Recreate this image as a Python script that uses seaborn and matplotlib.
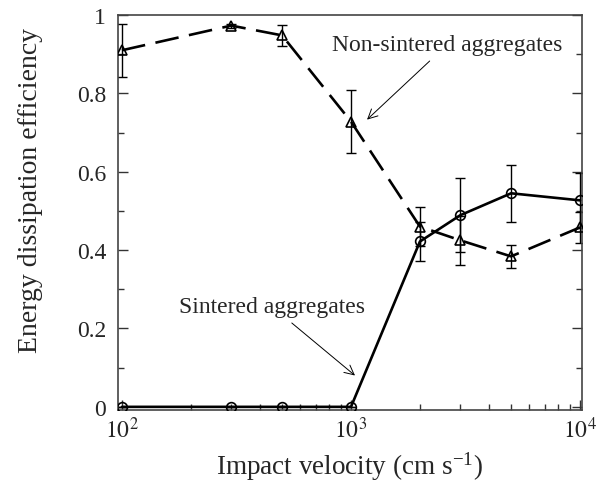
import matplotlib
matplotlib.use("Agg")
import matplotlib.pyplot as plt
import numpy as np
import pandas as pd
import seaborn as sns
from matplotlib.ticker import FixedLocator, MultipleLocator, LogLocator, NullFormatter

# impact velocity (cm/s)
velocity = [100, 300, 500, 1000, 2000, 3000, 5000, 10000]

# non-sintered aggregates
nonsint_eff = [0.91, 0.973, 0.948, 0.728, 0.46, 0.425, 0.384, 0.458]
nonsint_err = [0.068, 0.005, 0.027, 0.08, 0.05, 0.062, 0.03, 0.04]

# sintered aggregates
sint_eff = [0.0, 0.0, 0.0, 0.0, 0.422, 0.489, 0.545, 0.527]
sint_err = [0.0, 0.0, 0.0, 0.0, 0.05, 0.094, 0.072, 0.07]

y_ticks = [0, 0.2, 0.4, 0.6, 0.8, 1]
y_tick_labels = ["0", "0.2", "0.4", "0.6", "0.8", "1"]

df = pd.DataFrame({
    "velocity": velocity * 2,
    "eff": nonsint_eff + sint_eff,
    "err": nonsint_err + sint_err,
    "kind": ["Non-sintered"] * len(velocity) + ["Sintered"] * len(velocity),
})

sns.set_style("ticks")
plt.rcParams['font.family'] = ['Liberation Serif', 'DejaVu Serif']
plt.rcParams['mathtext.fontset'] = 'stix'

fig = plt.figure(figsize=(5.96, 4.85), dpi=100)
ax = fig.add_axes([0.198, 0.1526, 0.7785, 0.8144])

# error bars first
for kind in ["Non-sintered", "Sintered"]:
    d = df[df["kind"] == kind]
    ax.errorbar(d["velocity"], d["eff"], yerr=d["err"], fmt="none",
                ecolor="black", elinewidth=1, capsize=3.6, capthick=1, zorder=2)

sns.lineplot(data=df, x="velocity", y="eff", style="kind",
             markers={"Non-sintered": "^", "Sintered": "o"},
             dashes={"Non-sintered": (9, 4), "Sintered": ""},
             color="black", linewidth=1.9, markersize=7,
             markerfacecolor="none", markeredgecolor="black", markeredgewidth=1.2,
             legend=False, ax=ax, zorder=3)

ax.set_xscale("log")
ax.set_xlim(96.1, 10200)
ax.set_ylim(-0.008, 1.0)

ax.xaxis.set_major_locator(FixedLocator([100, 1000, 10000]))
ax.set_xticklabels([r"$10^2$", r"$10^3$", r"$10^4$"])
ax.xaxis.set_minor_locator(LogLocator(base=10, subs=np.arange(2, 10)))
ax.xaxis.set_minor_formatter(NullFormatter())
ax.yaxis.set_major_locator(FixedLocator(y_ticks))
ax.set_yticklabels(y_tick_labels)
ax.yaxis.set_minor_locator(MultipleLocator(0.1))

ax.tick_params(which="both", direction="in", top=False, right=True,
               labelsize=17, color="#333333")
ax.tick_params(which="major", length=7, width=1)
ax.tick_params(axis="y", which="major", pad=8.6)
ax.tick_params(axis="x", which="major", pad=5)
ax.tick_params(which="minor", length=4, width=1)
for s in ax.spines.values():
    s.set_linewidth(1.2)
    s.set_color("#444444")

ax.set_xlabel(r"Impact velocity (cm s$^{\mathregular{-1}}$)", fontsize=19.5, labelpad=5)
ax.set_ylabel("Energy dissipation efficiency", fontsize=20)
ax.yaxis.set_label_coords(-0.162, 0.557)

ax.annotate("Non-sintered aggregates", xy=(1175, 0.733), xytext=(2637, 0.925),
            ha="center", va="center", fontsize=17,
            arrowprops=dict(arrowstyle="->", color="black", lw=0.7,
                            shrinkA=3, shrinkB=0))
ax.annotate("Sintered aggregates", xy=(1041, 0.08), xytext=(452, 0.256),
            ha="center", va="center", fontsize=17,
            arrowprops=dict(arrowstyle="->", color="black", lw=0.7,
                            shrinkA=3, shrinkB=0))

fig.savefig("out.png", dpi=100)
